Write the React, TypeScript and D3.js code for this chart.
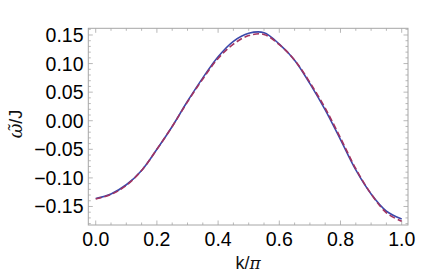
import React from "react";
import * as d3 from "d3";

const kValues = [0, 0.05, 0.1, 0.15, 0.2, 0.25, 0.3, 0.35, 0.4, 0.45, 0.5, 0.55, 0.6, 0.65, 0.7, 0.75, 0.8, 0.85, 0.9, 0.95, 1.0];
const solidSeries = [-0.136, -0.128, -0.112, -0.087, -0.05, -0.01, 0.034, 0.075, 0.112, 0.139, 0.153, 0.154, 0.134, 0.106, 0.065, 0.019, -0.033, -0.086, -0.128, -0.158, -0.172];
const dashedSeries = [-0.137, -0.129, -0.113, -0.087, -0.05, -0.01, 0.033, 0.073, 0.109, 0.134, 0.149, 0.151, 0.133, 0.106, 0.067, 0.022, -0.03, -0.084, -0.128, -0.161, -0.176];
const xTickLabels = ["0.0", "0.2", "0.4", "0.6", "0.8", "1.0"];
const xTickValues = [0, 0.2, 0.4, 0.6, 0.8, 1.0];
const yTickValues = [-0.15, -0.1, -0.05, 0, 0.05, 0.1, 0.15];
const yTickLabels = ["\u22120.15", "\u22120.10", "\u22120.05", "0.00", "0.05", "0.10", "0.15"];

export default function App() {
  const W = 436, H = 279;
  const left = 88.3, right = 408, top = 28.3, bottom = 225;
  const x = d3.scaleLinear().domain([-0.0242, 1.0206]).range([left, right]);
  const y = d3.scaleLinear().domain([-0.1824, 0.1617]).range([bottom, top]);
  const frame = "#a6a6a6";
  const font = "'Liberation Sans', Arial, sans-serif";

  const line = d3
    .line<number>()
    .x((_, i) => x(kValues[i]))
    .y((d) => y(d))
    .curve(d3.curveCatmullRom.alpha(0.5));

  const xMinor = d3.range(0, 1.0001, 0.05).map((v) => +v.toFixed(2));
  const yMinor = d3.range(-0.18, 0.1601, 0.01).map((v) => +v.toFixed(2));
  const isMajorX = (v: number) => Math.abs(v * 5 - Math.round(v * 5)) < 1e-6;
  const isMajorY = (v: number) => Math.abs(v * 20 - Math.round(v * 20)) < 1e-6;

  return (
    <svg width={W} height={H} style={{ position: "absolute", left: 0, top: 0 }}>
      <rect x={0} y={0} width={W} height={H} fill="white" />
      <defs>
        <clipPath id="plotclip">
          <rect x={left} y={top} width={right - left} height={bottom - top} />
        </clipPath>
      </defs>
      {xMinor.map((v, i) => {
        const len = isMajorX(v) ? 4.5 : 2.5;
        return (
          <g key={"xt" + i} stroke={frame} strokeWidth={0.8}>
            <line x1={x(v)} x2={x(v)} y1={bottom} y2={bottom - len} />
            <line x1={x(v)} x2={x(v)} y1={top} y2={top + len} />
          </g>
        );
      })}
      {yMinor.map((v, i) => {
        const len = isMajorY(v) ? 4.5 : 2.5;
        return (
          <g key={"yt" + i} stroke={frame} strokeWidth={0.8}>
            <line x1={left} x2={left + len} y1={y(v)} y2={y(v)} />
            <line x1={right} x2={right - len} y1={y(v)} y2={y(v)} />
          </g>
        );
      })}
      <rect x={left} y={top} width={right - left} height={bottom - top} fill="none" stroke={frame} strokeWidth={1} />
      <g clipPath="url(#plotclip)" fill="none">
        <path d={line(solidSeries) || ""} stroke="#3b48aa" strokeWidth={1.6} />
        <path d={line(dashedSeries) || ""} stroke="#a33361" strokeWidth={1.6} strokeDasharray="6,3" />
      </g>
      {xTickValues.map((v, i) => (
        <text key={"xl" + i} x={x(v)} y={245.5} textAnchor="middle" fontFamily={font} fontSize={19.5} fill="#000">
          {xTickLabels[i]}
        </text>
      ))}
      {yTickValues.map((v, i) => (
        <text key={"yl" + i} x={83.5} y={y(v) + 7} textAnchor="end" fontFamily={font} fontSize={19.5} fill="#000">
          {yTickLabels[i]}
        </text>
      ))}
      <text x={(left + right) / 2} y={268.5} textAnchor="middle" fontFamily={font} fontSize={18} fill="#111">
        k/<tspan fontFamily="'DejaVu Serif', serif" fontStyle="italic" fontSize={17}>π</tspan>
      </text>
      <text
        transform={`translate(22,124) rotate(-90)`}
        textAnchor="middle"
        fontFamily={font}
        fontSize={18}
        fill="#111"
      >
        <tspan fontFamily="'DejaVu Serif', serif" fontStyle="italic">{"\u03C9\u0303"}</tspan>/J
      </text>
    </svg>
  );
}
